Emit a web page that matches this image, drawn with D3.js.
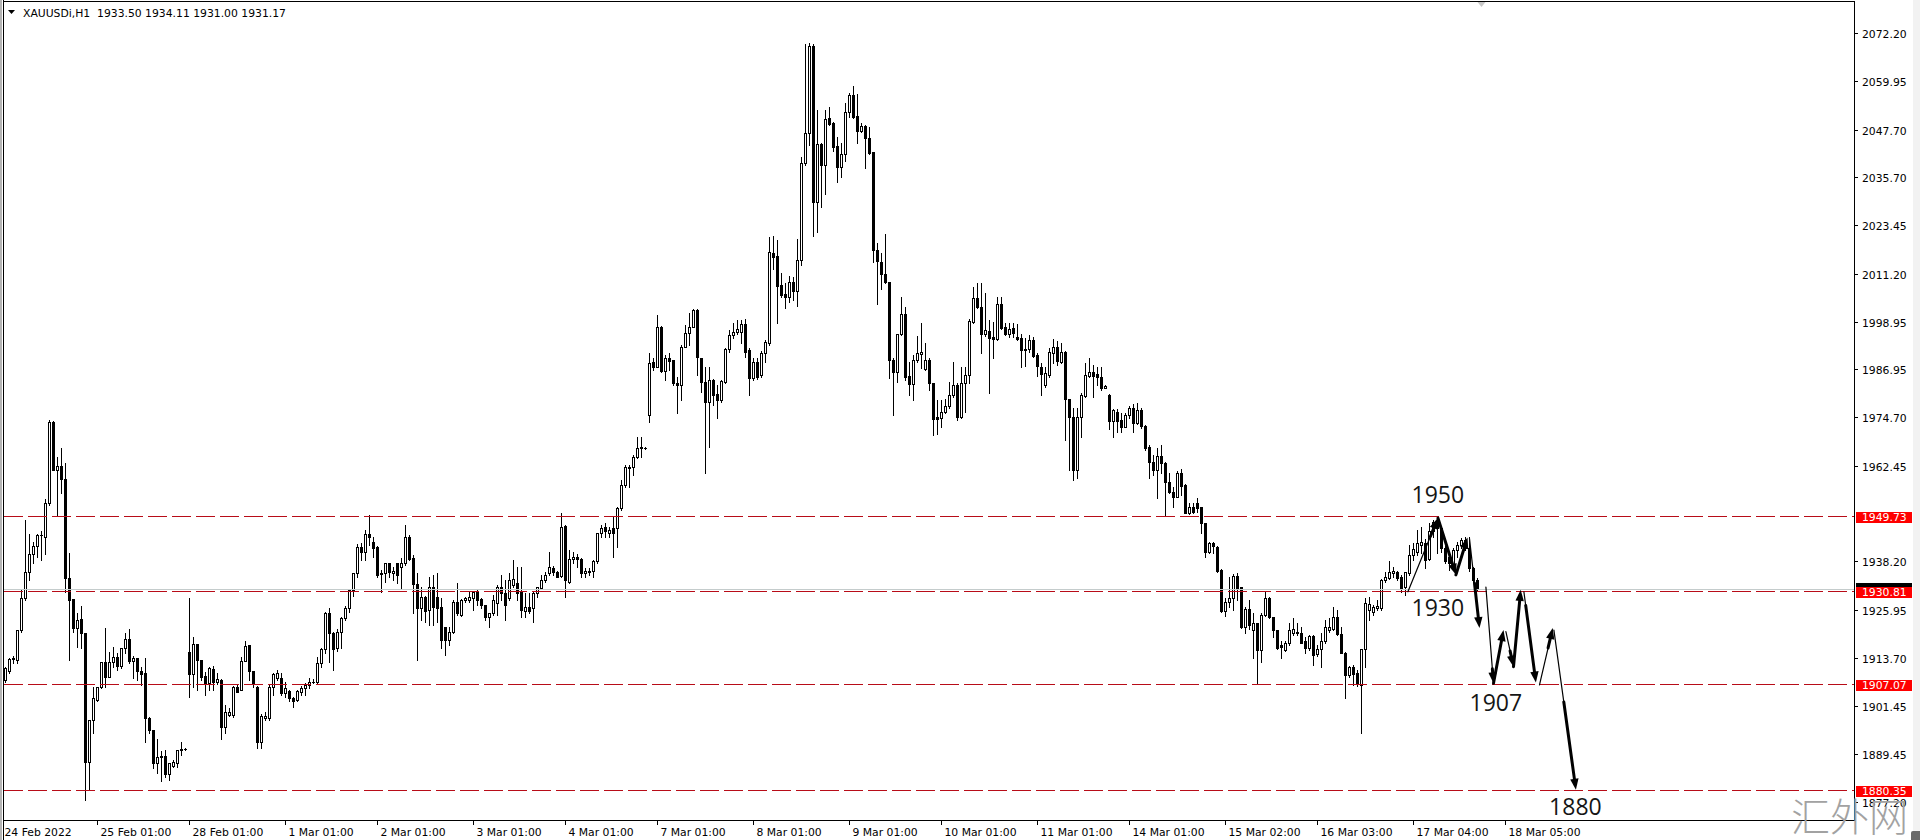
<!DOCTYPE html>
<html><head><meta charset="utf-8">
<script src="https://cdn.jsdelivr.net/npm/d3@7"></script>
<style>html,body{margin:0;padding:0;background:#fff;overflow:hidden}</style>
</head><body>
<svg id="c" width="1920" height="840" xmlns="http://www.w3.org/2000/svg"></svg>
<script>
const symbolTitle = "XAUUSDi,H1";
const lastQuote = [1933.50, 1934.11, 1931.00, 1931.17];

const opens = [
1908.1,1910.3,1913.4,1913.2,1920.8,1928.9,1935.5,1940.1,1942.2,1944.9,
1944.5,1952.9,1973.5,1961.4,1962.4,1959.0,1934.1,1928.6,1921.4,1923.6,
1920.0,1887.4,1898.0,1903.1,1906.3,1912.6,1909.0,1912.8,1913.9,1911.8,
1916.2,1918.5,1913.0,1913.6,1910.3,1909.8,1898.6,1895.5,1887.0,1888.7,
1888.9,1884.2,1886.4,1887.0,1890.4,1890.6,1915.2,1909.7,1917.2,1913.2,
1909.2,1907.3,1911.0,1907.7,1908.1,1896.1,1899.3,1899.3,1906.4,1905.6,
1913.0,1916.9,1910.3,1906.4,1892.5,1898.4,1898.4,1906.4,1908.6,1908.6,
1904.8,1905.4,1903.5,1903.1,1905.2,1906.0,1906.9,1907.6,1907.6,1912.4,
1915.9,1925.0,1920.0,1916.2,1920.4,1923.8,1926.3,1931.0,1935.2,1941.9,
1940.7,1945.1,1943.2,1941.9,1935.2,1935.2,1937.7,1935.2,1937.7,1936.9,
1937.7,1944.5,1939.0,1932.6,1926.3,1929.3,1925.9,1931.6,1929.3,1926.7,
1921.6,1918.3,1920.2,1928.0,1924.6,1928.4,1928.4,1928.9,1930.5,1928.6,
1927.2,1924.2,1925.0,1927.6,1931.8,1930.1,1928.9,1932.2,1932.8,1930.5,
1925.7,1926.7,1926.3,1930.1,1931.4,1933.5,1935.2,1936.5,1935.6,1934.5,
1947.2,1933.1,1938.7,1939.4,1938.7,1935.2,1935.6,1935.9,1938.2,1945.3,
1947.0,1945.3,1946.6,1946.6,1951.7,1957.6,1962.2,1962.2,1964.8,1966.9,
1967.0,1975.3,1988.9,1987.6,1997.7,1986.6,1989.7,1989.3,1983.5,1982.9,
1992.7,1996.2,1997.7,2001.9,1989.7,1983.8,1978.7,1984.2,1980.6,1979.1,
1983.8,1992.0,1995.6,1996.5,1996.5,1998.4,1991.8,1984.6,1988.9,1985.5,
1991.0,1993.5,2016.5,2015.6,2008.3,2006.0,2005.3,2009.1,2006.8,2014.6,
2039.2,2046.8,2068.9,2029.4,2044.0,2038.7,2050.6,2049.5,2043.5,2038.1,
2041.5,2052.2,2056.5,2051.2,2047.4,2048.6,2045.5,2041.9,2017.3,2014.2,
2011.2,2009.0,1989.4,1986.3,1995.9,2000.9,1985.2,1983.2,1989.3,1990.8,
1986.9,1989.4,1983.5,1974.7,1974.5,1976.0,1977.6,1980.4,1982.9,1974.9,
1983.4,1985.5,1999.0,2004.9,2002.6,1995.9,1996.6,1995.2,1994.5,2003.5,
1997.7,1995.9,1997.3,1995.0,1994.8,1992.0,1992.0,1994.3,1990.5,1987.6,
1982.9,1985.5,1991.1,1992.5,1988.9,1991.4,1979.3,1974.7,1961.4,1974.7,
1980.2,1985.2,1986.3,1985.7,1985.0,1982.3,1980.4,1973.7,1976.2,1974.1,
1972.4,1975.3,1977.0,1973.2,1976.6,1972.6,1967.3,1963.5,1961.4,1964.9,
1963.1,1958.4,1955.9,1954.6,1960.5,1957.6,1950.6,1952.1,1952.9,1951.9,
1947.9,1940.7,1942.8,1941.9,1936.0,1925.7,1927.8,1928.9,1934.5,1931.6,
1921.5,1926.1,1920.7,1922.5,1915.8,1924.6,1928.9,1924.0,1920.7,1917.0,
1915.8,1917.4,1920.1,1920.4,1920.1,1917.9,1916.2,1919.3,1914.7,1915.9,
1917.9,1920.8,1921.0,1924.2,1919.8,1915.1,1909.4,1911.4,1909.8,1906.9,
1915.9,1925.9,1925.5,1926.3,1926.3,1933.5,1933.9,1935.2,1935.4,1934.3,
1931.6,1935.2,1939.8,1940.7,1942.4,1943.0,1938.7,1945.8,1948.3,1946.6,
1941.5,1939.4,1936.9,1941.1,1942.4,1943.6,1941.5,1936.5,1933.5];

const highs = [
1911.5,1913.6,1914.1,1920.9,1931.0,1948.7,1945.1,1943.2,1945.1,1945.8,
1954.0,1974.1,1973.8,1964.8,1966.9,1963.1,1940.3,1928.6,1925.1,1926.8,
1920.0,1898.0,1906.4,1906.4,1912.8,1921.4,1915.2,1916.6,1914.9,1916.2,
1920.0,1921.0,1914.1,1913.6,1911.5,1913.6,1898.8,1895.5,1893.1,1890.2,
1890.4,1887.2,1887.8,1890.4,1892.5,1890.8,1928.9,1919.0,1917.2,1913.2,
1910.2,1911.5,1911.7,1909.8,1908.3,1901.8,1901.0,1906.6,1906.9,1914.0,
1918.1,1917.0,1910.5,1906.6,1899.6,1900.1,1906.9,1909.8,1910.7,1909.8,
1907.7,1905.6,1903.9,1905.6,1906.6,1907.3,1908.6,1908.3,1914.0,1916.2,
1925.5,1926.3,1920.4,1921.0,1924.2,1926.8,1931.2,1935.2,1942.6,1943.0,
1946.2,1950.0,1944.5,1942.1,1936.0,1937.9,1937.9,1936.9,1937.9,1939.0,
1947.4,1944.9,1939.8,1935.2,1931.8,1929.5,1934.2,1934.8,1935.2,1928.9,
1921.6,1921.6,1928.4,1932.8,1928.6,1929.2,1930.5,1930.5,1931.0,1929.0,
1927.2,1925.0,1929.7,1932.2,1934.8,1933.5,1935.2,1938.6,1936.9,1936.9,
1930.1,1930.1,1930.5,1931.8,1934.8,1935.6,1940.7,1937.0,1935.9,1950.6,
1947.4,1941.1,1940.7,1940.2,1939.0,1936.5,1936.5,1938.6,1945.5,1947.4,
1947.9,1947.0,1949.6,1952.1,1958.9,1962.7,1962.7,1965.2,1969.8,1969.8,
1967.1,1991.0,1989.7,2000.7,1997.9,1990.5,1991.0,1989.4,1985.0,1993.1,
1998.2,2001.1,2002.1,2002.1,1989.7,1987.6,1987.4,1984.4,1982.9,1984.2,
1992.3,1996.9,1998.6,1999.4,1999.4,1999.6,1992.2,1989.7,1989.7,1991.6,
1994.3,2020.5,2020.7,2019.7,2011.4,2008.7,2010.6,2010.4,2019.9,2040.8,
2069.4,2069.7,2069.4,2052.7,2044.4,2052.7,2053.5,2049.7,2045.9,2044.2,
2054.5,2057.1,2058.8,2056.7,2049.3,2048.9,2048.3,2042.1,2018.9,2016.5,
2021.2,2009.1,1989.7,1996.0,2005.3,2002.8,1988.9,1990.5,1995.4,1998.6,
1993.5,1989.7,1983.5,1979.1,1979.1,1979.3,1983.8,1988.9,1983.4,1987.6,
1987.6,1999.6,2007.7,2008.7,2008.7,2006.3,1999.4,1999.0,2005.3,2005.3,
1998.6,1998.6,1998.6,1998.4,1996.0,1994.8,1995.6,1995.2,1991.1,1988.6,
1987.6,1992.2,1994.5,1994.2,1993.6,1991.6,1979.3,1977.0,1977.0,1980.8,
1988.6,1989.7,1987.9,1987.4,1987.6,1982.9,1980.7,1976.8,1976.8,1975.8,
1975.9,1977.6,1978.1,1978.3,1977.0,1972.8,1967.7,1965.2,1966.9,1967.7,
1963.5,1960.5,1957.0,1961.2,1961.6,1957.8,1953.1,1953.1,1954.2,1952.1,
1948.0,1943.2,1943.2,1942.1,1936.2,1928.9,1934.3,1935.0,1935.2,1931.8,
1926.6,1928.3,1925.1,1922.7,1925.1,1930.5,1929.3,1924.2,1920.8,1917.9,
1917.9,1922.5,1923.8,1922.7,1921.7,1919.1,1919.5,1919.5,1917.0,1920.0,
1923.4,1923.8,1926.7,1925.9,1921.7,1915.3,1911.7,1911.9,1910.7,1915.9,
1928.9,1929.3,1927.2,1928.4,1933.7,1935.6,1938.2,1936.9,1935.9,1934.8,
1935.6,1942.4,1942.8,1946.2,1947.0,1943.8,1947.9,1948.7,1949.6,1947.0,
1942.1,1940.3,1941.5,1943.2,1944.1,1944.5,1944.5,1936.9,1934.11];

const lows = [
1907.7,1909.8,1912.4,1912.4,1920.4,1928.4,1933.5,1937.7,1939.4,1938.6,
1940.1,1952.5,1961.4,1950.0,1955.5,1930.5,1913.2,1920.2,1916.6,1916.2,
1877.7,1880.3,1894.6,1902.7,1906.0,1906.4,1909.0,1911.5,1910.7,1911.1,
1914.9,1912.4,1908.6,1908.2,1906.9,1892.5,1894.6,1885.7,1884.6,1882.4,
1883.6,1882.8,1886.2,1886.2,1889.0,1890.4,1903.9,1906.4,1905.6,1908.2,
1904.3,1905.6,1905.6,1907.1,1893.1,1894.6,1899.0,1898.8,1905.0,1905.6,
1913.0,1908.2,1906.4,1890.8,1890.8,1898.0,1898.0,1904.3,1908.2,1904.3,
1903.9,1902.7,1901.2,1902.7,1904.3,1904.3,1906.0,1907.3,1907.3,1911.5,
1914.9,1912.8,1910.7,1915.5,1916.2,1923.4,1925.5,1929.5,1934.3,1938.6,
1938.6,1942.4,1939.4,1934.3,1930.5,1933.1,1934.3,1933.5,1932.8,1931.4,
1937.3,1938.6,1925.0,1913.2,1923.4,1922.9,1922.1,1922.1,1922.9,1916.2,
1914.5,1917.0,1920.0,1924.6,1924.4,1928.0,1928.0,1925.9,1927.2,1926.5,
1923.4,1921.6,1924.6,1924.6,1928.4,1923.4,1928.4,1931.8,1928.4,1924.2,
1924.2,1925.0,1922.9,1929.3,1931.4,1933.1,1934.8,1934.8,1934.2,1934.3,
1929.3,1932.8,1937.7,1936.9,1934.3,1934.3,1934.8,1934.3,1937.7,1944.5,
1944.5,1944.5,1939.4,1941.9,1951.3,1957.2,1957.2,1960.1,1964.4,1964.8,
1966.8,1973.6,1986.7,1987.6,1986.3,1984.2,1986.7,1982.9,1975.8,1979.1,
1992.5,1993.1,1997.6,1985.5,1981.2,1960.5,1967.3,1977.9,1974.5,1978.7,
1983.4,1991.4,1994.8,1996.0,1993.7,1990.1,1980.4,1984.2,1984.4,1985.0,
1988.9,1993.1,2012.3,1998.6,2005.3,2002.4,2004.1,2004.5,2003.0,2013.4,
2038.7,2043.8,2020.7,2021.8,2028.2,2031.5,2048.9,2042.4,2034.5,2035.8,
2039.8,2050.8,2050.6,2044.2,2047.2,2037.9,2041.5,2014.2,2003.6,2007.4,
2008.7,1984.6,1975.3,1983.8,1995.6,1984.2,1980.4,1979.1,1988.9,1987.2,
1986.7,1981.7,1970.3,1970.5,1972.4,1975.8,1977.0,1980.0,1974.1,1974.5,
1976.2,1983.4,1998.6,2002.4,1991.1,1995.4,1980.9,1989.7,1994.3,1997.1,
1995.6,1995.2,1995.2,1994.3,1987.6,1987.7,1991.4,1990.1,1985.2,1980.4,
1982.5,1985.0,1988.4,1988.0,1988.4,1969.0,1961.4,1958.8,1959.3,1969.8,
1980.0,1984.9,1980.0,1982.9,1981.8,1982.1,1971.7,1969.7,1971.1,1971.1,
1972.2,1974.5,1970.9,1973.0,1972.0,1966.5,1959.3,1960.1,1954.2,1960.7,
1949.6,1955.5,1952.1,1954.5,1955.1,1950.4,1950.2,1950.4,1950.8,1945.3,
1939.2,1940.4,1940.3,1935.6,1925.5,1924.4,1926.7,1925.9,1928.4,1921.2,
1920.0,1921.0,1913.6,1907.1,1912.8,1924.4,1923.8,1919.1,1915.9,1913.6,
1915.6,1917.0,1919.5,1919.5,1917.4,1914.9,1915.8,1911.9,1914.1,1911.4,
1917.4,1920.4,1920.7,1919.5,1914.9,1903.5,1909.0,1906.9,1906.6,1894.6,
1911.5,1923.4,1924.6,1925.9,1925.9,1933.1,1933.7,1934.3,1933.5,1930.5,
1929.7,1934.8,1938.6,1939.8,1940.3,1936.5,1938.6,1944.5,1940.3,1940.7,
1937.7,1936.0,1936.0,1939.4,1941.5,1941.1,1935.9,1933.1,1931.00];

const closes = [
1911.1,1913.4,1913.6,1920.8,1928.9,1935.5,1940.1,1942.2,1944.9,1945.0,
1952.9,1973.5,1961.4,1962.4,1959.0,1934.1,1928.4,1921.4,1923.4,1920.1,
1887.4,1898.0,1903.5,1906.3,1912.6,1909.0,1912.8,1913.9,1911.8,1916.2,
1918.5,1913.0,1913.6,1910.3,1909.7,1898.6,1895.5,1887.0,1888.7,1888.9,
1884.2,1887.2,1887.4,1890.4,1890.6,1890.6,1909.7,1917.2,1913.2,1909.0,
1907.0,1911.3,1907.7,1908.3,1896.1,1900.1,1900.1,1906.4,1905.2,1913.0,
1916.8,1910.3,1907.3,1892.5,1899.0,1899.0,1906.4,1909.7,1909.8,1904.8,
1906.0,1903.5,1902.7,1905.4,1906.0,1906.9,1907.6,1907.7,1912.4,1915.9,
1925.0,1920.0,1915.9,1920.4,1923.8,1926.3,1931.0,1935.2,1941.9,1940.7,
1945.1,1944.5,1941.5,1934.8,1935.0,1937.7,1935.6,1935.9,1934.8,1937.7,
1944.5,1938.7,1932.6,1926.3,1929.3,1925.7,1931.8,1926.7,1926.3,1918.3,
1918.3,1920.2,1928.0,1925.0,1928.4,1928.9,1929.3,1930.5,1928.4,1927.2,
1924.2,1925.0,1928.4,1931.8,1930.1,1927.2,1933.5,1933.7,1930.1,1925.9,
1926.7,1925.7,1930.3,1931.6,1933.5,1934.8,1936.9,1935.6,1934.3,1947.0,
1933.5,1938.7,1939.4,1938.7,1935.2,1935.8,1935.9,1938.2,1945.3,1946.6,
1945.8,1946.2,1945.3,1951.7,1957.6,1962.2,1961.8,1964.8,1966.9,1967.3,
1966.9,1988.4,1987.6,1997.7,1986.6,1989.7,1989.1,1983.4,1982.9,1992.7,
1996.2,1997.7,2001.9,1990.0,1983.8,1978.7,1984.2,1980.4,1979.1,1984.0,
1992.0,1995.6,1996.5,1997.1,1998.4,1991.4,1984.6,1988.9,1985.0,1991.1,
1993.9,2016.6,2015.5,2008.0,2005.8,2005.3,2009.1,2006.8,2014.6,2039.2,
2046.8,2068.9,2029.4,2044.0,2038.7,2050.3,2049.1,2043.2,2038.1,2041.5,
2052.2,2056.5,2050.8,2047.4,2048.6,2045.5,2041.7,2017.2,2014.5,2011.2,
2009.0,1989.4,1986.3,1995.9,2000.9,1985.0,1983.2,1989.3,1991.0,1991.4,
1989.4,1983.5,1974.2,1974.2,1976.2,1977.6,1980.4,1982.9,1974.9,1983.4,
1985.5,1999.2,2004.9,2002.6,1996.0,1996.9,1994.8,1994.5,2003.5,1997.3,
1995.9,1997.1,1996.2,1994.5,1991.8,1991.8,1994.3,1990.3,1987.7,1985.7,
1986.1,1991.4,1992.5,1989.1,1991.4,1979.3,1974.7,1961.4,1974.9,1980.4,
1985.5,1986.3,1985.2,1985.0,1982.3,1982.8,1973.7,1976.6,1973.7,1972.4,
1975.3,1977.0,1973.2,1976.6,1972.6,1966.9,1963.3,1961.4,1964.9,1963.1,
1958.4,1955.9,1954.6,1960.7,1957.3,1950.6,1952.1,1950.8,1951.7,1947.9,
1940.7,1942.8,1942.1,1935.9,1925.7,1927.8,1928.9,1934.5,1931.4,1921.5,
1926.1,1922.1,1922.5,1915.8,1924.6,1928.9,1924.0,1920.7,1916.2,1916.6,
1917.6,1920.7,1921.0,1920.0,1917.6,1916.2,1919.3,1914.5,1915.9,1917.9,
1921.5,1921.5,1924.2,1919.8,1915.1,1909.4,1911.4,1909.7,1907.1,1915.9,
1927.6,1927.4,1926.7,1926.9,1933.5,1934.2,1935.6,1935.9,1933.9,1931.4,
1935.4,1939.8,1941.3,1942.8,1943.2,1938.6,1945.8,1948.3,1946.6,1941.5,
1938.2,1937.7,1941.1,1942.4,1943.6,1941.5,1936.5,1933.5,1931.17];

const priceTicks = [2072.20,2059.95,2047.70,2035.70,2023.45,2011.20,1998.95,1986.95,1974.70,1962.45,1938.20,1925.95,1913.70,1901.45,1889.45,1877.20];
const timeLabels = ["24 Feb 2022","25 Feb 01:00","28 Feb 01:00","1 Mar 01:00","2 Mar 01:00","3 Mar 01:00","4 Mar 01:00","7 Mar 01:00","8 Mar 01:00","9 Mar 01:00","10 Mar 01:00","11 Mar 01:00","14 Mar 01:00","15 Mar 02:00","16 Mar 03:00","17 Mar 04:00","18 Mar 05:00"];
const timeLabelBars = [0,23,46,70,93,117,140,163,187,211,234,258,281,305,328,352,375];
const levelLines = [1949.73,1930.81,1907.07,1880.35];

const arrowFromBar = [350.6,358.1,362.6,366.0,370.1,372.0,375.1,377.0,379.6,383.5,387.1];
const arrowFromPrice = [1930.5,1949.2,1934.8,1944.0,1931.7,1907.3,1920.4,1911.5,1930.5,1906.9,1920.8];
const arrowToBar = [358.1,362.6,365.5,368.5,372.0,374.5,377.0,378.8,382.6,386.8,392.6];
const arrowToPrice = [1949.2,1934.8,1944.3,1921.3,1907.3,1920.8,1911.5,1931.0,1907.5,1921.3,1880.3];

const noteTexts = ["1950","1930","1907","1880"];
const noteBars = [351.5,351.5,366.0,385.9];
const notePrices = [1953.1,1924.4,1900.4,1873.9];

// ---------- drawing ----------
const svg = d3.select('#c');
const FONT = "'DejaVu Sans', Verdana, sans-serif";
const plotL = 3.5, plotR = 1854.5, plotT = 1.5, plotB = 820.5;

const x = d3.scaleLinear().domain([0, 462]).range([5.5, 5.5 + 4 * 462]);
const y = d3.scaleLinear().domain([1877.2, 2072.2]).range([802, 33]);

svg.append('rect').attr('width', 1920).attr('height', 840).attr('fill', '#fff');
svg.append('rect').attr('x', 0).attr('y', 0).attr('width', 2).attr('height', 840).attr('fill', '#b4b4b4');
svg.append('rect').attr('x', 1913).attr('y', 0).attr('width', 7).attr('height', 840).attr('fill', '#f2f2f2');

const defs = svg.append('defs');
defs.append('clipPath').attr('id', 'clip').append('rect')
  .attr('x', 4).attr('y', 2).attr('width', plotR - 4).attr('height', plotB - 2);

const n = Math.min(opens.length, highs.length, lows.length, closes.length);
const bars = d3.range(n).map(i => ({ i, o: opens[i], h: highs[i], l: lows[i], c: closes[i] }));

const plot = svg.append('g').attr('clip-path', 'url(#clip)');
const cg = plot.append('g').attr('shape-rendering', 'crispEdges');

bars.forEach(b => {
  const cx = Math.floor(x(b.i)) + 0.5;
  const yh = Math.round(y(Math.max(b.h, b.o, b.c)));
  const yl = Math.round(y(Math.min(b.l, b.o, b.c)));
  const yo = Math.round(y(b.o)), yc = Math.round(y(b.c));
  const top = Math.min(yo, yc), bot = Math.max(yo, yc);
  cg.append('line').attr('x1', cx).attr('x2', cx).attr('y1', yh).attr('y2', yl + 1)
    .attr('stroke', '#000').attr('stroke-width', 1);
  if (bot - top < 2) {
    cg.append('rect').attr('x', cx - 1.5).attr('y', top).attr('width', 3).attr('height', Math.max(1, bot - top + 1)).attr('fill', '#000');
  } else if (b.c > b.o) {
    cg.append('rect').attr('x', cx - 1).attr('y', top + 0.5).attr('width', 2).attr('height', bot - top)
      .attr('fill', '#fff').attr('stroke', '#000').attr('stroke-width', 1);
  } else {
    cg.append('rect').attr('x', cx - 1.5).attr('y', top).attr('width', 3).attr('height', bot - top + 1).attr('fill', '#000');
  }
});

// bid line
const lastClose = closes[n - 1];
plot.append('line').attr('x1', plotL).attr('x2', plotR)
  .attr('y1', Math.round(y(lastClose)) + 0.5).attr('y2', Math.round(y(lastClose)) + 0.5)
  .attr('stroke', '#c4cccc').attr('stroke-width', 1).attr('shape-rendering', 'crispEdges');

// level lines
levelLines.forEach(v => {
  const yy = Math.round(y(v)) + 0.5;
  plot.append('line').attr('x1', plotL).attr('x2', plotR).attr('y1', yy).attr('y2', yy)
    .attr('stroke', '#b80c18').attr('stroke-width', 1).attr('stroke-dasharray', '19,5')
    .attr('shape-rendering', 'crispEdges');
});

// arrows
const thickFrac = [0.25, 1, 1, 0.5, 0.15, 1, 0.45, 1, 0.85, 0.35, 0.55];
const ag = plot.append('g');
arrowFromBar.forEach((fb, k) => {
  const p0 = [x(fb), y(arrowFromPrice[k])];
  const p1 = [x(arrowToBar[k]), y(arrowToPrice[k])];
  const dx = p1[0] - p0[0], dy = p1[1] - p0[1];
  const len = Math.hypot(dx, dy), ux = dx / len, uy = dy / len;
  const headLen = 11, headW = 4.2;
  const base = [p1[0] - ux * headLen, p1[1] - uy * headLen];
  ag.append('line').attr('x1', p0[0]).attr('y1', p0[1]).attr('x2', base[0]).attr('y2', base[1])
    .attr('stroke', '#000').attr('stroke-width', 1.2).attr('stroke-linecap', 'round');
  const f = thickFrac[k];
  const ts = [p0[0] + dx * (1 - f), p0[1] + dy * (1 - f)];
  ag.append('line').attr('x1', ts[0]).attr('y1', ts[1]).attr('x2', base[0] + ux * 2).attr('y2', base[1] + uy * 2)
    .attr('stroke', '#000').attr('stroke-width', 3).attr('stroke-linecap', 'round');
  const px = -uy, py = ux;
  ag.append('path')
    .attr('d', `M${p1[0]},${p1[1]}L${base[0] + px * headW},${base[1] + py * headW}L${base[0] - px * headW},${base[1] - py * headW}Z`)
    .attr('fill', '#000');
});

// annotation texts
noteTexts.forEach((t, k) => {
  plot.append('text').attr('x', x(noteBars[k])).attr('y', y(notePrices[k]))
    .attr('font-family', "'Open Sans','Noto Sans',sans-serif").attr('font-size', 23)
    .attr('fill', '#151515').text(t);
});

// border
svg.append('rect').attr('x', plotL).attr('y', plotT).attr('width', plotR - plotL).attr('height', plotB - plotT)
  .attr('fill', 'none').attr('stroke', '#000').attr('stroke-width', 1).attr('shape-rendering', 'crispEdges');
svg.append('line').attr('x1', plotL).attr('x2', plotL).attr('y1', 0).attr('y2', 840)
  .attr('stroke', '#000').attr('stroke-width', 1).attr('shape-rendering', 'crispEdges');

// price axis
const pa = svg.append('g');
priceTicks.forEach(v => {
  const yy = Math.round(y(v)) + 0.5;
  pa.append('line').attr('x1', plotR).attr('x2', plotR + 3).attr('y1', yy).attr('y2', yy)
    .attr('stroke', '#000').attr('shape-rendering', 'crispEdges');
  pa.append('text').attr('x', 1862).attr('y', yy + 4).attr('font-family', FONT).attr('font-size', 10.8)
    .attr('fill', '#000').text(v.toFixed(2));
});

// time axis
timeLabels.forEach((t, k) => {
  const xx = Math.floor(x(timeLabelBars[k])) + 0.5;
  if (k > 0) {
    svg.append('line').attr('x1', xx).attr('x2', xx).attr('y1', plotB).attr('y2', plotB + 4)
      .attr('stroke', '#000').attr('shape-rendering', 'crispEdges');
  }
  svg.append('text').attr('x', k === 0 ? plotL + 1 : xx + 3).attr('y', 836)
    .attr('font-family', FONT).attr('font-size', 10.8).attr('fill', '#000').text(t);
});

// current price (black) marker, mostly hidden under the red label, then red level labels
const yb = Math.round(y(lastClose));
svg.append('rect').attr('x', 1856).attr('y', yb - 6).attr('width', 56).attr('height', 11).attr('fill', '#000');
levelLines.forEach(v => {
  const yy = Math.round(y(v));
  svg.append('rect').attr('x', 1856).attr('y', yy - 4).attr('width', 56).attr('height', 11).attr('fill', '#ff0000');
  svg.append('text').attr('x', 1862).attr('y', yy + 5).attr('font-family', FONT).attr('font-size', 10.8)
    .attr('fill', '#fff').text(v.toFixed(2));
});

// title
svg.append('path').attr('d', 'M8,10L15,10L11.5,14Z').attr('fill', '#000');
svg.append('text').attr('x', 23).attr('y', 17).attr('font-family', FONT).attr('font-size', 10.8)
  .attr('fill', '#000').attr('xml:space', 'preserve').style('white-space', 'pre')
  .text(symbolTitle + '  ' + lastQuote.map(v => v.toFixed(2)).join(' '));

// chart shift marker
const sx = x(n);
svg.append('path').attr('d', `M${sx - 4},2L${sx + 4},2L${sx},7Z`).attr('fill', '#c8c8c8');

// watermark
svg.append('text').attr('x', 1791).attr('y', 831)
  .attr('font-family', "'Noto Sans CJK SC','Noto Sans CJK JP',sans-serif").attr('font-size', 39)
  .attr('font-weight', 300).attr('fill', '#a2a2a2').text('汇外网');
svg.append('rect').attr('x', 1911).attr('y', 831).attr('width', 12).attr('height', 12).attr('rx', 2).attr('fill', '#6a6a6a');
</script>
</body></html>
